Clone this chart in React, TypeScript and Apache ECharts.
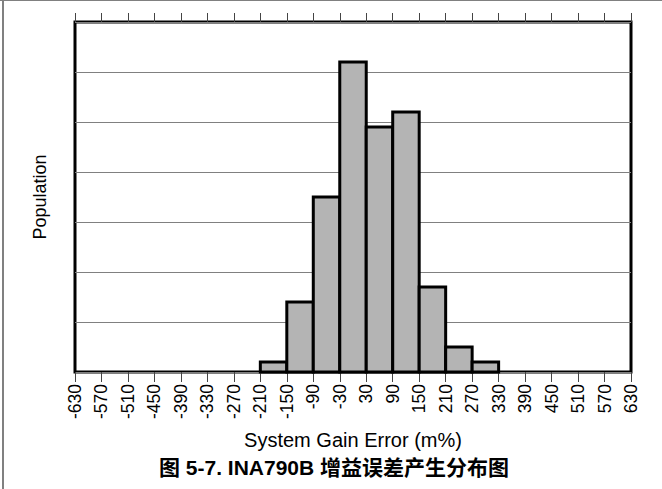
import React, { useEffect, useRef } from "react";
import * as echarts from "echarts";

// Histogram bins (m%) and population heights (relative units, gridline = 1)
const binLow = [-210, -150, -90, -30, 30, 90, 150, 210, 270];
const binHigh = [-150, -90, -30, 30, 90, 150, 210, 270, 330];
const population = [0.2, 1.4, 3.5, 6.2, 4.9, 5.2, 1.7, 0.5, 0.2];

const xMin = -630;
const xMax = 630;
const xStep = 60;
const yMin = 0;
const yMax = 7;
const yStep = 1;

const xTitle = "System Gain Error (m%)";
const yTitle = "Population";
const caption = "图 5-7. INA790B 增益误差产生分布图";

const FONT = "'Liberation Sans', Arial, 'Noto Sans CJK SC', sans-serif";

export default function App() {
  const ref = useRef<HTMLDivElement>(null);
  useEffect(() => {
    document.body.style.margin = "0";
    const chart = echarts.init(ref.current!, null, { renderer: "svg" });
    const data = binLow.map((lo, i) => [lo, binHigh[i], population[i]]);
    chart.setOption({
      animation: false,
      backgroundColor: "#fff",
      grid: {
        left: 75,
        right: 31,
        top: 22,
        bottom: 117,
        show: true,
        borderColor: "#000",
        borderWidth: 3,
        backgroundColor: "transparent",
      },
      xAxis: [
        {
          type: "value",
          min: xMin,
          max: xMax,
          interval: xStep,
          position: "bottom",
          axisLine: { show: false },
          axisTick: { show: true, inside: false, length: 10, lineStyle: { color: "#444", width: 1 } },
          axisLabel: {
            rotate: 90,
            margin: 12,
            fontSize: 17.5,
            color: "#000",
            fontFamily: FONT,
          },
          splitLine: { show: false },
          name: xTitle,
          nameLocation: "middle",
          nameGap: 58,
          nameTextStyle: { fontSize: 20, color: "#000", fontFamily: FONT },
        },
        {
          type: "value",
          min: xMin,
          max: xMax,
          interval: xStep,
          position: "top",
          axisLine: { show: false },
          axisTick: { show: true, inside: false, length: 9, lineStyle: { color: "#444", width: 1 } },
          axisLabel: { show: false },
          splitLine: { show: false },
        },
      ],
      yAxis: {
        type: "value",
        min: yMin,
        max: yMax,
        interval: yStep,
        axisLine: { show: false },
        axisTick: { show: false },
        axisLabel: { show: false },
        splitLine: { show: true, lineStyle: { color: "#808080", width: 1.2 } },
        name: yTitle,
        nameLocation: "middle",
        nameGap: 26,
        nameTextStyle: { fontSize: 18, color: "#000", fontFamily: FONT },
      },
      series: [
        {
          type: "custom",
          xAxisIndex: 0,
          yAxisIndex: 0,
          data,
          encode: { x: [0, 1], y: 2 },
          renderItem: (params: any, api: any) => {
            const lo = api.value(0);
            const hi = api.value(1);
            const v = api.value(2);
            const p0 = api.coord([lo, v]);
            const p1 = api.coord([hi, 0]);
            return {
              type: "rect",
              shape: { x: p0[0], y: p0[1], width: p1[0] - p0[0], height: p1[1] - p0[1] },
              style: { fill: "#b4b4b4", stroke: "#000", lineWidth: 3 },
            };
          },
        },
      ],
      graphic: [
        {
          type: "line",
          shape: { x1: 0, y1: 0.5, x2: 662, y2: 0.5 },
          style: { stroke: "#808080", lineWidth: 1 },
        },
        {
          type: "line",
          shape: { x1: 3, y1: 0, x2: 3, y2: 489 },
          style: { stroke: "#808080", lineWidth: 2 },
        },
        {
          type: "text",
          x: 334,
          y: 467,
          style: {
            text: caption,
            fontSize: 21,
            fontWeight: "bold",
            fill: "#000",
            fontFamily: FONT,
            textAlign: "center",
            textVerticalAlign: "middle",
          },
        },
      ],
    });
    return () => chart.dispose();
  }, []);
  return (
    <div
      ref={ref}
      style={{ position: "absolute", left: 0, top: 0, width: 662, height: 489 }}
    />
  );
}
